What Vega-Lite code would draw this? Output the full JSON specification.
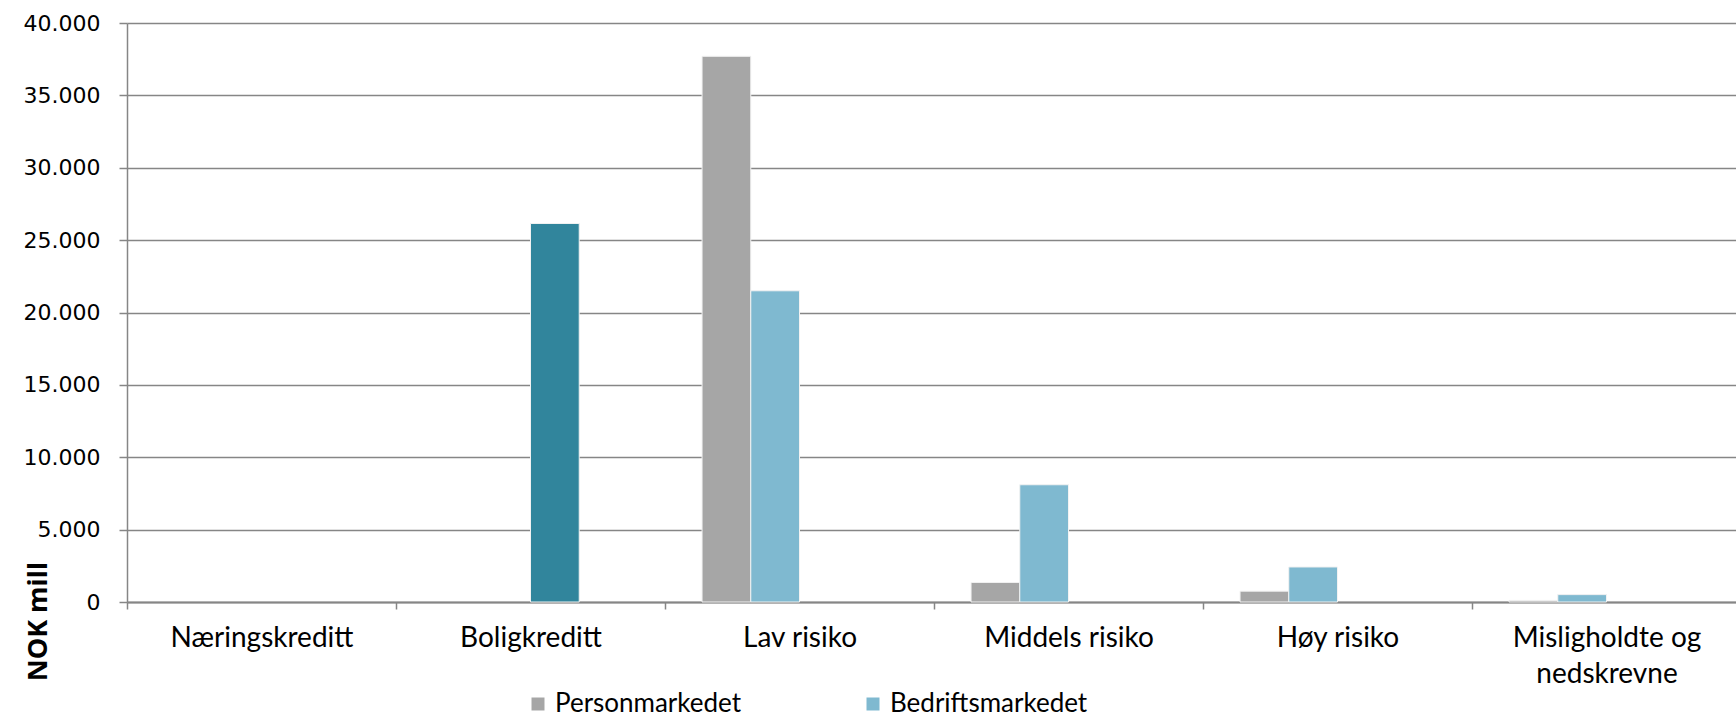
{
  "$schema": "https://vega.github.io/schema/vega-lite/v6.json",
  "width": 1614,
  "height": 579,
  "autosize": "none",
  "padding": {"left": 127, "top": 23, "right": 0, "bottom": 117},
  "background": "white",
  "config": {"view": {"stroke": null}, "font": "Lato"},
  "data": {
    "values": [
      {"kategori": "Boligkreditt", "serie": "Boligkreditt", "verdi": 26150},
      {"kategori": "Lav risiko", "serie": "Personmarkedet", "verdi": 37700},
      {"kategori": "Lav risiko", "serie": "Bedriftsmarkedet", "verdi": 21500},
      {"kategori": "Middels risiko", "serie": "Personmarkedet", "verdi": 1350},
      {"kategori": "Middels risiko", "serie": "Bedriftsmarkedet", "verdi": 8100},
      {"kategori": "Høy risiko", "serie": "Personmarkedet", "verdi": 750},
      {"kategori": "Høy risiko", "serie": "Bedriftsmarkedet", "verdi": 2420},
      {"kategori": "Misligholdte og nedskrevne", "serie": "Personmarkedet", "verdi": 110},
      {"kategori": "Misligholdte og nedskrevne", "serie": "Bedriftsmarkedet", "verdi": 510}
    ]
  },
  "mark": {"type": "bar", "stroke": "#f2f2f2", "strokeWidth": 1},
  "encoding": {
    "x": {
      "field": "kategori",
      "type": "nominal",
      "scale": {
        "domain": ["Næringskreditt", "Boligkreditt", "Lav risiko", "Middels risiko", "Høy risiko", "Misligholdte og nedskrevne"],
        "paddingInner": 0,
        "paddingOuter": 0
      },
      "axis": {
        "title": null,
        "labelAngle": 0,
        "tickBand": "extent",
        "domainColor": "#868686",
        "domainWidth": 2,
        "tickColor": "#868686",
        "tickSize": 7,
        "tickWidth": 1.5,
        "labelFont": "Lato",
        "labelFontSize": 28,
        "labelColor": "#000000",
        "labelPadding": 15,
        "labelBaseline": "top",
        "labelLineHeight": 36,
        "labelLimit": 0,
        "labelExpr": "datum.label == 'Misligholdte og nedskrevne' ? ['Misligholdte og', 'nedskrevne'] : datum.label"
      }
    },
    "xOffset": {
      "field": "serie",
      "type": "nominal",
      "scale": {
        "domain": ["Personmarkedet", "Bedriftsmarkedet", "Boligkreditt", "Næringskreditt"],
        "paddingInner": 0,
        "paddingOuter": 0.76
      }
    },
    "y": {
      "field": "verdi",
      "type": "quantitative",
      "scale": {"domain": [0, 40000], "nice": false},
      "axis": {
        "values": [0, 5000, 10000, 15000, 20000, 25000, 30000, 35000, 40000],
        "labelExpr": "replace(format(datum.value, ','), ',', '.')",
        "labelFont": "DejaVu Sans",
        "labelFontSize": 22,
        "labelColor": "#000000",
        "labelPadding": 19,
        "domainColor": "#868686",
        "domainWidth": 1.5,
        "tickColor": "#868686",
        "tickSize": 8,
        "tickWidth": 1.5,
        "gridColor": "#868686",
        "gridWidth": 1.5,
        "title": "NOK mill",
        "titleFont": "Open Sans",
        "titleFontWeight": "bold",
        "titleFontSize": 27,
        "titleColor": "#000000",
        "titleAngle": -90,
        "titleX": -89,
        "titleY": 598,
        "titleAlign": "center",
        "titleBaseline": "middle"
      }
    },
    "color": {
      "field": "serie",
      "type": "nominal",
      "scale": {
        "domain": ["Personmarkedet", "Bedriftsmarkedet", "Boligkreditt", "Næringskreditt"],
        "range": ["#A6A6A6", "#7FB9D0", "#31859C", "#1F497D"]
      },
      "legend": {
        "values": ["Personmarkedet", "Bedriftsmarkedet"],
        "orient": "none",
        "legendX": 398,
        "legendY": 668,
        "direction": "horizontal",
        "title": null,
        "symbolType": "square",
        "symbolSize": 169,
        "symbolStrokeWidth": 0,
        "labelFont": "Lato",
        "labelFontSize": 26,
        "labelColor": "#000000",
        "labelLimit": 0,
        "columnPadding": 118
      }
    }
  }
}
